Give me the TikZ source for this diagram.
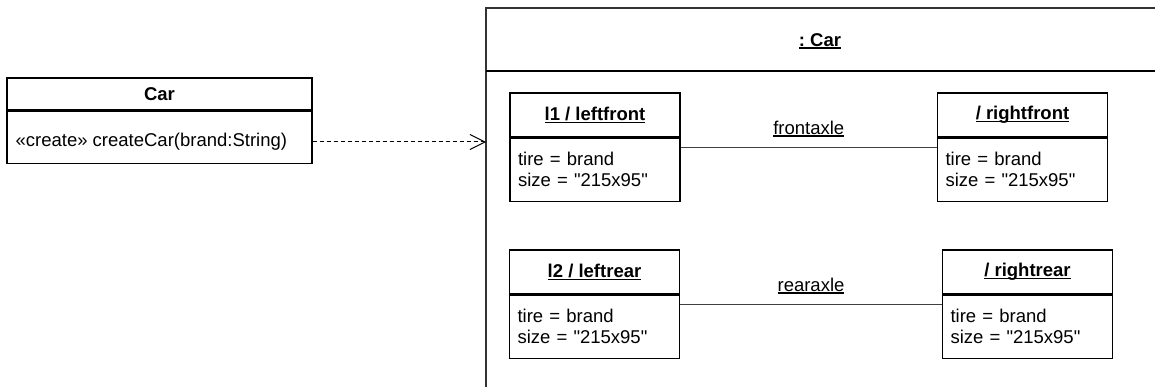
\documentclass[tikz,border=0pt]{standalone}
\usepackage{fontspec}
\setmainfont{Liberation Sans}[Ligatures=TeXOff]
\usepackage{tikz}
\usetikzlibrary{arrows.meta,positioning}

% underlined name, with a heavier rule than \underline
\newcommand{\uln}[1]{\setbox0\hbox{#1}\rlap{\rule[-2.6pt]{\wd0}{1.3pt}}\box0}
\frenchspacing

\begin{document}
\begin{tikzpicture}[x=1pt,y=-1pt,line width=1.2pt,
  font=\fontsize{18.5}{21}\selectfont,
  objhead/.style={draw,minimum width=170pt,minimum height=44pt,inner sep=0pt,
    font=\fontsize{18.5}{21}\selectfont\bfseries},
  objattr/.style={draw,minimum height=63pt,text width=154pt,inner xsep=8pt,
    inner ysep=0pt,align=left},
  axle/.style={draw=black!75,line width=1pt},
  role/.style={midway,above=7pt}]
  \useasboundingbox (0,0) rectangle (1155,387);

  % the class
  \node[draw,minimum width=305pt,minimum height=32pt,inner sep=0pt,
    font=\fontsize{18.5}{21}\selectfont\bfseries] (car) at (159.5,94) {Car};
  \node[draw,minimum width=305pt,minimum height=52pt,below=0pt of car] (carb) {};
  \node[anchor=west,inner sep=0pt] (op) at (15,142) {«create» createCar(brand:String)};

  % the instance and its parts
  \draw[draw=black!80] (1160,8) -- (486,8) -- (486,392);
  \draw[line width=2.6pt] (486,71) -- (1160,71);
  \node[font=\fontsize{18.5}{21}\selectfont\bfseries] (inst) at (820,41) {\uln{: Car}};
  \coordinate (cin) at (486,142);

  \node[objhead] (lf) at (595,115) {\uln{l1 / leftfront}};
  \node[objattr,below=0pt of lf] (lfa) {tire = brand\\size = "215x95"};
  \node[objhead] (rf) at (1022.5,115) {\uln{/ rightfront}};
  \node[objattr,below=0pt of rf] (rfa) {tire = brand\\size = "215x95"};
  \node[objhead] (lr) at (594.5,272) {\uln{l2 / leftrear}};
  \node[objattr,below=0pt of lr] (lra) {tire = brand\\size = "215x95"};
  \node[objhead] (rr) at (1027.5,272) {\uln{/ rightrear}};
  \node[objattr,below=0pt of rr] (rra) {tire = brand\\size = "215x95"};

  \draw[axle] ([yshift=-10pt]lfa.north east) -- ([yshift=-10pt]lfa.north east -| rfa.west)
    node[role] {\uln{frontaxle}};
  \draw[axle] ([yshift=-10pt]lra.north east) -- ([yshift=-10pt]lra.north east -| rra.west)
    node[role] {\uln{rearaxle}};

  \draw[line width=1pt,dash pattern=on 4pt off 3pt,
    -{Straight Barb[length=15pt,width=15pt,line width=1pt]}] (op -| carb.east) -- (cin);
\end{tikzpicture}
\end{document}
